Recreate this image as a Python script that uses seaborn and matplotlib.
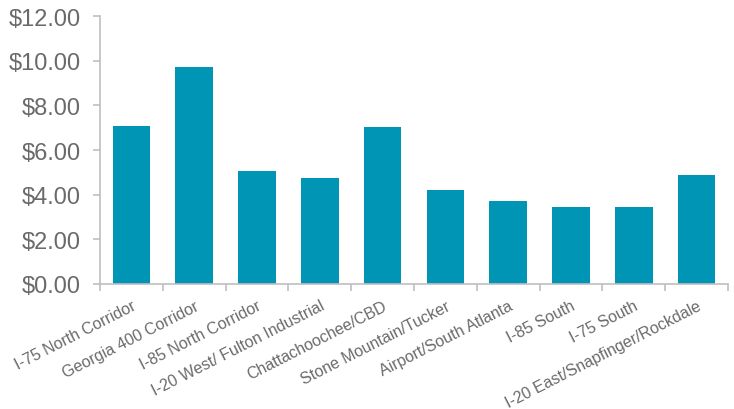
import matplotlib
matplotlib.use("Agg")
import matplotlib.pyplot as plt
import numpy as np
import pandas as pd
import seaborn as sns

sns.set_theme(style="white")
plt.rcParams['font.family'] = ['Liberation Sans', 'DejaVu Sans']

submarkets = ['I-75 North Corridor', 'Georgia 400 Corridor', 'I-85 North Corridor',
              'I-20 West/ Fulton Industrial', 'Chattachoochee/CBD', 'Stone Mountain/Tucker',
              'Airport/South Atlanta', 'I-85 South', 'I-75 South',
              'I-20 East/Snapfinger/Rockdale']
rent = [7.06, 9.72, 5.05, 4.73, 7.03, 4.21, 3.72, 3.43, 3.46, 4.88]
y_ticks = [0, 2, 4, 6, 8, 10, 12]

df = pd.DataFrame({'submarket': submarkets, 'rent': rent})

fig = plt.figure(figsize=(7.34, 4.10), dpi=100)
ax = fig.add_axes([100/734, 125/410, 628/734, 268/410])

sns.barplot(data=df, x='submarket', y='rent', color='#0094B5', width=0.6,
            saturation=1, linewidth=0, ax=ax)

ax.set_xlim(-0.5, len(submarkets) - 0.5)
ax.set_ylim(0, 12)
ax.set_yticks(y_ticks)
ax.set_yticklabels(['${:.2f}'.format(v) for v in y_ticks])
ax.set_xlabel('')
ax.set_ylabel('')

grey = '#BFBFBF'
for side in ['top', 'right']:
    ax.spines[side].set_visible(False)
for side in ['left', 'bottom']:
    ax.spines[side].set_color(grey)
    ax.spines[side].set_linewidth(1.2)

ax.tick_params(axis='y', which='major', left=True, length=5, width=1.2, color=grey,
               labelsize=17, labelcolor='#6A6A6A', pad=9)
ax.tick_params(axis='x', which='major', bottom=False, length=0, labelsize=11.5,
               labelcolor='#6A6A6A', pad=10)
ax.set_xticks(np.arange(len(submarkets) + 1) - 0.5, minor=True)
ax.tick_params(axis='x', which='minor', bottom=True, length=5, width=1.2, color=grey)

for lab in ax.get_xticklabels():
    lab.set_rotation(27)
    lab.set_ha('right')
    lab.set_rotation_mode('anchor')

fig.savefig('out.png', dpi=100)
